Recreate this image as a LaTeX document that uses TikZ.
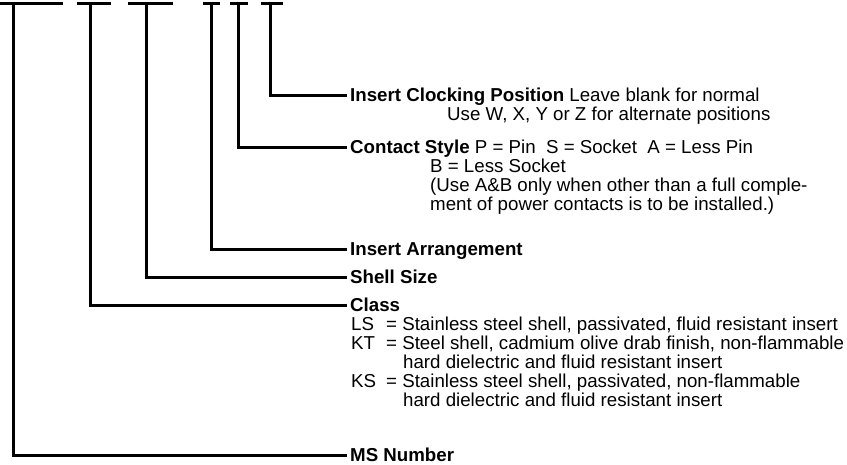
\documentclass[tikz,border=0pt]{standalone}
\usepackage{fontspec}
\setmainfont{Liberation Sans}
\usetikzlibrary{calc}

\tikzset{
  stem/.style={line width=3pt},
  field/.style={anchor=west, inner xsep=3pt, inner ysep=0pt, text height=13.4pt, text depth=0pt},
  note/.style={anchor=west, inner sep=0pt, text height=13.4pt, text depth=0pt},
}

\begin{document}
\begin{tikzpicture}[x=1pt, y=-1pt, font=\fontsize{18.7}{19}\selectfont]
    \useasboundingbox (0,0) rectangle (847,464);

    % Blanks of the part number
    \foreach \a/\b in {0/63, 77/111, 128/173, 203/220, 230/248, 261/283}
        \draw[stem] (\a,3) -- (\b,3);

    % Top ends of the stems
    \coordinate (ms) at (13,3);
    \coordinate (cls) at (90,3);
    \coordinate (shl) at (146,3);
    \coordinate (arr) at (211,3);
    \coordinate (cnt) at (238,3);
    \coordinate (clk) at (270,3);

    % Field labels
    \node[field] (clock) at (347,95) {\textbf{Insert Clocking Position} Leave blank for normal};
    \node[note] (clock2) at (447,114) {Use W, X, Y or Z for alternate positions};

    \node[field] (contact) at (347,147) {\textbf{Contact Style} P = Pin\ \ S = Socket\ \ A = Less Pin};
    \node[note] (contact2) at (430,166) {B = Less Socket};
    \node[note] (contact3) at (430,185) {(Use A\&B only when other than a full comple-};
    \node[note] (contact4) at (430,204) {ment of power contacts is to be installed.)};

    \node[field] (arrange) at (347,249) {\textbf{Insert Arrangement}};
    \node[field] (shell) at (347,277) {\textbf{Shell Size}};

    \node[field] (class) at (347,305) {\textbf{Class}};
    \node[note] (classls) at (351,324) {\makebox[35pt][l]{LS}= Stainless steel shell, passivated, fluid resistant insert};
    \node[note] (classkt) at (351,343) {\makebox[35pt][l]{KT}= Steel shell, cadmium olive drab finish, non-flammable};
    \node[note] (classkt2) at (403,362) {hard dielectric and fluid resistant insert};
    \node[note] (classks) at (351,381) {\makebox[35pt][l]{KS}= Stainless steel shell, passivated, non-flammable};
    \node[note] (classks2) at (403,400) {hard dielectric and fluid resistant insert};

    \node[field] (msnum) at (347,455) {\textbf{MS Number}};

    % Stems to the labels
    \draw[stem] (clk) |- (clock.west);
    \draw[stem] (cnt) |- (contact.west);
    \draw[stem] (arr) |- (arrange.west);
    \draw[stem] (shl) |- (shell.west);
    \draw[stem] (cls) |- (class.west);
    \draw[stem] (ms) |- (msnum.west);
\end{tikzpicture}
\end{document}
